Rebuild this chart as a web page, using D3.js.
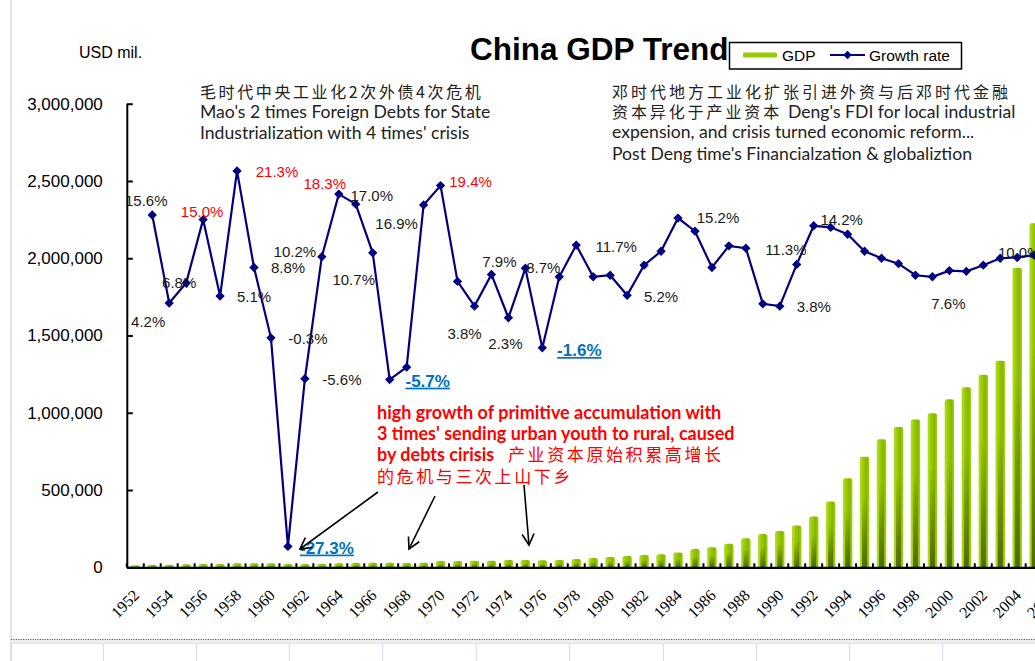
<!DOCTYPE html>
<html><head><meta charset="utf-8">
<script src="https://cdn.jsdelivr.net/npm/d3@7"></script>
<style>body{margin:0;background:#fff;overflow:hidden}svg{display:block}</style>
</head><body><svg id="c" width="1035" height="661"></svg>
<script>
// ---------------- data ----------------
const categories = [1952,1953,1954,1955,1956,1957,1958,1959,1960,1961,1962,1963,1964,1965,1966,1967,1968,1969,1970,1971,1972,1973,1974,1975,1976,1977,1978,1979,1980,1981,1982,1983,1984,1985,1986,1987,1988,1989,1990,1991,1992,1993,1994,1995,1996,1997,1998,1999,2000,2001,2002,2003,2004,2005,2006];
const tickYears = [1952,1954,1956,1958,1960,1962,1964,1966,1968,1970,1972,1974,1976,1978,1980,1982,1984,1986,1988,1990,1992,1994,1996,1998,2000,2002,2004,2006];
const yTicks = [0,500000,1000000,1500000,2000000,2500000,3000000];
const gdpYears = [1952,1953,1954,1955,1956,1957,1958,1959,1960,1961,1962,1963,1964,1965,1966,1967,1968,1969,1970,1971,1972,1973,1974,1975,1976,1977,1978,1979,1980,1981,1982,1983,1984,1985,1986,1987,1988,1989,1990,1991,1992,1993,1994,1995,1996,1997,1998,1999,2000,2001,2002,2003,2004,2005];
const gdpValues = [13000,17000,17000,19000,21000,21000,26000,26000,26000,21000,21000,23000,26000,28000,30000,30000,28000,30000,41000,41000,43000,43000,47000,47000,45000,47000,53000,60000,66000,73000,80000,85000,95000,118000,129000,153000,188000,216000,235000,270000,328000,425000,576000,716000,828000,908000,956000,997000,1087000,1165000,1246000,1337000,1939000,2226000];
const growthYears = [1953,1954,1955,1956,1957,1958,1959,1960,1961,1962,1963,1964,1965,1966,1967,1968,1969,1970,1971,1972,1973,1974,1975,1976,1977,1978,1979,1980,1981,1982,1983,1984,1985,1986,1987,1988,1989,1990,1991,1992,1993,1994,1995,1996,1997,1998,1999,2000,2001,2002,2003,2004,2005];
const growthValues = [15.6,4.2,6.8,15.0,5.1,21.3,8.8,-0.3,-27.3,-5.6,10.2,18.3,17.0,10.7,-5.7,-4.1,16.9,19.4,7.0,3.8,7.9,2.3,8.7,-1.6,7.6,11.7,7.6,7.8,5.2,9.1,10.9,15.2,13.5,8.8,11.6,11.3,4.1,3.8,9.2,14.2,14.0,13.1,10.9,10.0,9.3,7.8,7.6,8.4,8.3,9.1,10.0,10.1,10.4];
const labelledYears = [1953,1954,1955,1956,1957,1958,1959,1960,1961,1962,1963,1964,1965,1966,1967,1969,1970,1972,1973,1974,1975,1976,1978,1981,1984,1988,1990,1992,1999,2003];

// ---------------- layout (label offsets / styles) ----------------
const labelLayout = {
  1953:{dx:-6,dy:-14,k:'n'}, 1954:{dx:-21,dy:19,k:'n'}, 1955:{dx:-7,dy:0,k:'n'},
  1956:{dx:-1,dy:-8,k:'r'}, 1957:{dx:34,dy:1,k:'n'}, 1958:{dx:40,dy:1,k:'r'},
  1959:{dx:34,dy:0,k:'n'}, 1960:{dx:37,dy:1,k:'n'}, 1961:{dx:39,dy:1,k:'b'},
  1962:{dx:37,dy:1,k:'n'}, 1963:{dx:-27,dy:-5,k:'n'}, 1964:{dx:-14,dy:-11,k:'r'},
  1965:{dx:16,dy:-9,k:'n'}, 1966:{dx:-19,dy:27,k:'n'}, 1967:{dx:38,dy:1,k:'b'},
  1969:{dx:-27,dy:19,k:'n'}, 1970:{dx:30,dy:-4,k:'r'}, 1972:{dx:-10,dy:27,k:'n'},
  1973:{dx:8,dy:-13,k:'n'}, 1974:{dx:-3,dy:26,k:'n'}, 1975:{dx:18,dy:-1,k:'n'},
  1976:{dx:37,dy:2,k:'b'}, 1978:{dx:40,dy:2,k:'n'}, 1981:{dx:34,dy:1,k:'n'},
  1984:{dx:40,dy:0,k:'n'}, 1988:{dx:40,dy:1,k:'n'}, 1990:{dx:34,dy:0,k:'n'},
  1992:{dx:28,dy:-6,k:'n'}, 1999:{dx:16,dy:27,k:'n'}, 2003:{dx:19,dy:-6,k:'n'}
};

const svg = d3.select('#c');
const SANS = '"Liberation Sans", Arial, sans-serif';
const LATO = 'Lato, "Open Sans", sans-serif';
const CJK = '"Noto Sans CJK SC", sans-serif';

// defs
const defs = svg.append('defs');
const gh = defs.append('linearGradient').attr('id','barH').attr('x1',0).attr('x2',1).attr('y1',0).attr('y2',0);
[[0,'#b8de2e'],[0.35,'#9acd00'],[0.7,'#86b600'],[1,'#a2d20c']].forEach(s=>gh.append('stop').attr('offset',s[0]).attr('stop-color',s[1]));
const gv = defs.append('linearGradient').attr('id','barV').attr('x1',0).attr('x2',0).attr('y1',0).attr('y2',1);
[[0,0],[0.35,0],[1,0.7]].forEach(s=>gv.append('stop').attr('offset',s[0]).attr('stop-color','#2f4500').attr('stop-opacity',s[1]));
defs.append('marker').attr('id','arr').attr('markerUnits','userSpaceOnUse')
  .attr('markerWidth',16).attr('markerHeight',16).attr('refX',12).attr('refY',7).attr('orient','auto')
  .append('path').attr('d','M1,1 L12,7 L1,13').attr('fill','none').attr('stroke','#000').attr('stroke-width',1.6);

// frame of the screenshot (spreadsheet)
svg.append('line').attr('x1',11).attr('x2',11).attr('y1',0).attr('y2',661).attr('stroke','#c9d3e3').attr('stroke-width',1.2);
svg.append('rect').attr('x',11).attr('y',640).attr('width',1030).attr('height',3).attr('fill','#eeeeee');
svg.append('line').attr('x1',11).attr('x2',1035).attr('y1',639.5).attr('y2',639.5).attr('stroke','#555').attr('stroke-width',1.2).attr('stroke-dasharray','1.2,1.2');
svg.append('line').attr('x1',11).attr('x2',1035).attr('y1',643.5).attr('y2',643.5).attr('stroke','#dfe3ea').attr('stroke-width',1);
[11,103.3,196.7,289.3,382.7,476.2,569.5,663.3,756.7,849.5,942.7].forEach(v=>svg.append('line').attr('x1',v).attr('x2',v).attr('y1',644).attr('y2',661).attr('stroke','#d3dae6').attr('stroke-width',1));

// scales
const x = d3.scaleBand().domain(categories).range([126.8, 126.8 + categories.length*16.96]).padding(0);
const y = d3.scaleLinear().domain([0,3000000]).range([567.3,103.7]);
const y2 = d3.scaleLinear().domain([-30,30]).range([567.3,103.7]);
const cx = yr => x(yr) + x.bandwidth()/2;

// bars
const gdp = gdpYears.map((yr,i)=>({yr, v:gdpValues[i]}));
const bw = 9.5;
const bars = svg.append('g');
bars.selectAll('rect.b').data(gdp).join('rect').attr('class','b')
  .attr('x',d=>cx(d.yr)-bw/2).attr('width',bw)
  .attr('y',d=>y(d.v)).attr('height',d=>y(0)-y(d.v)+1).attr('rx',2.2)
  .attr('fill','url(#barH)');
bars.selectAll('rect.s').data(gdp).join('rect').attr('class','s')
  .attr('x',d=>cx(d.yr)-2.5).attr('width',5)
  .attr('y',d=>y(d.v)+1).attr('height',d=>Math.max(0,y(0)-y(d.v)-1))
  .attr('fill','url(#barV)');

// y axis
const ya = svg.append('g').attr('transform','translate(126.8,0)')
  .call(d3.axisLeft(y).tickValues(yTicks).tickFormat(d3.format(',')).tickSizeInner(-6).tickSizeOuter(0).tickPadding(24));
ya.select('.domain').attr('stroke','#000').attr('stroke-width',2);
ya.selectAll('.tick line').attr('stroke','#000').attr('stroke-width',2);
ya.selectAll('.tick text').attr('font-family',SANS).attr('font-size',17).attr('fill','#000');

// x axis
const xa = svg.append('g').attr('transform',`translate(0,${y(0)})`)
  .call(d3.axisBottom(x).tickValues(tickYears).tickSize(0).tickSizeOuter(0));
xa.select('.domain').attr('stroke','#000').attr('stroke-width',2.2);
xa.selectAll('.tick text').attr('font-family','"Liberation Serif", "Times New Roman", serif').attr('font-size',16).attr('fill','#000')
  .attr('text-anchor','end').attr('dy',0).attr('y',0)
  .attr('transform','translate(5,29) rotate(-45)');
// category tick marks (between bars)
svg.append('g').selectAll('line').data(categories).join('line')
  .attr('x1',d=>x(d)).attr('x2',d=>x(d)).attr('y1',y(0)).attr('y2',y(0)-4)
  .attr('stroke','#000').attr('stroke-width',2);

// growth line
const growth = growthYears.map((yr,i)=>({yr, g:growthValues[i]}));
svg.append('path').datum(growth)
  .attr('d', d3.line().x(d=>cx(d.yr)).y(d=>y2(d.g)))
  .attr('fill','none').attr('stroke','#000080').attr('stroke-width',2.2);
svg.append('g').selectAll('rect').data(growth).join('rect')
  .attr('x',-3.3).attr('y',-3.3).attr('width',6.6).attr('height',6.6)
  .attr('transform',d=>`translate(${cx(d.yr)},${y2(d.g)}) rotate(45)`)
  .attr('fill','#000080');

// data labels
const styles = {n:{fill:'#1a1a1a',size:15,w:'normal',u:null}, r:{fill:'#ff0000',size:15,w:'normal',u:null}, b:{fill:'#0070c0',size:17,w:'bold',u:'underline'}};
const lab = growth.filter(d=>labelledYears.includes(d.yr));
svg.append('g').selectAll('text').data(lab).join('text')
  .attr('x',d=>cx(d.yr)+labelLayout[d.yr].dx)
  .attr('y',d=>y2(d.g)+labelLayout[d.yr].dy)
  .attr('dy','0.36em').attr('text-anchor','middle')
  .attr('font-family',SANS)
  .attr('font-size',d=>styles[labelLayout[d.yr].k].size)
  .attr('font-weight',d=>styles[labelLayout[d.yr].k].w)
  .attr('fill',d=>styles[labelLayout[d.yr].k].fill)
  .attr('text-decoration',d=>styles[labelLayout[d.yr].k].u)
  .text(d=>d.g.toFixed(1)+'%');

// arrows
[[378,492,300,549],[435,496,409,549],[524,485,529,545]].forEach(a=>
  svg.append('line').attr('x1',a[0]).attr('y1',a[1]).attr('x2',a[2]).attr('y2',a[3])
    .attr('stroke','#000').attr('stroke-width',1.6).attr('marker-end','url(#arr)'));

// titles
svg.append('text').attr('x',79).attr('y',58).attr('font-family',SANS).attr('font-size',16).attr('fill','#000').text('USD mil.');
svg.append('text').attr('x',470).attr('y',60).attr('font-family',SANS).attr('font-size',31.5).attr('font-weight','bold').attr('fill','#000').text('China GDP Trend');

// legend
const lg = svg.append('g');
lg.append('rect').attr('x',729.5).attr('y',42.5).attr('width',232).attr('height',26.5).attr('fill','#fff').attr('stroke','#000').attr('stroke-width',1.5);
lg.append('rect').attr('x',743).attr('y',52.5).attr('width',34).attr('height',5).attr('rx',1.5).attr('fill','#99cc00');
lg.append('text').attr('x',782).attr('y',61).attr('font-family',SANS).attr('font-size',15.5).attr('fill','#000').text('GDP');
lg.append('line').attr('x1',830).attr('x2',865).attr('y1',55).attr('y2',55).attr('stroke','#000080').attr('stroke-width',2);
lg.append('rect').attr('x',-3).attr('y',-3).attr('width',6).attr('height',6).attr('transform','translate(847.5,55) rotate(45)').attr('fill','#000080');
lg.append('text').attr('x',869).attr('y',61).attr('font-family',SANS).attr('font-size',15.5).attr('fill','#000').text('Growth rate');

// annotation: Mao
const EN = 17.6;
const ta = svg.append('g').attr('fill','#222');
ta.append('text').attr('x',200).attr('y',97.5).attr('font-family',CJK).attr('font-size',16).attr('letter-spacing',2.6).text('毛时代中央工业化2次外债4次危机');
ta.append('text').attr('x',200).attr('y',117.5).attr('font-family',LATO).attr('font-size',EN).text("Mao's 2 times Foreign Debts for State");
ta.append('text').attr('x',200).attr('y',138.5).attr('font-family',LATO).attr('font-size',EN).text("Industrialization with 4 times' crisis");

// annotation: Deng
ta.append('text').attr('x',612).attr('y',97.5).attr('font-family',CJK).attr('font-size',16).attr('letter-spacing',3).text('邓时代地方工业化扩张引进外资与后邓时代金融');
const l2 = ta.append('text').attr('x',612).attr('y',117.5);
l2.append('tspan').attr('font-family',CJK).attr('font-size',16).attr('letter-spacing',2.9).text('资本异化于产业资本');
l2.append('tspan').attr('x',788).attr('font-family',LATO).attr('font-size',EN).text("Deng's FDI for local industrial");
ta.append('text').attr('x',612).attr('y',138).attr('font-family',LATO).attr('font-size',EN).text('expension, and crisis turned economic reform...');
ta.append('text').attr('x',612).attr('y',159.5).attr('font-family',LATO).attr('font-size',EN).text("Post Deng time's Financialzation & globaliztion");

// annotation: red
const RS = 18;
const rd = svg.append('g').attr('fill','#ff0000').attr('font-weight','bold');
rd.append('text').attr('x',377).attr('y',419).attr('font-family',LATO).attr('font-size',RS).text('high growth of primitive accumulation with');
rd.append('text').attr('x',377).attr('y',440).attr('font-family',LATO).attr('font-size',RS).text("3 times' sending urban youth to rural, caused");
const r3 = rd.append('text').attr('x',377).attr('y',461);
r3.append('tspan').attr('font-family',LATO).attr('font-size',RS).text('by debts cirisis');
r3.append('tspan').attr('x',508).attr('font-family',CJK).attr('font-size',17).attr('font-weight','normal').attr('letter-spacing',2.6).text('产业资本原始积累高增长');
rd.append('text').attr('x',377).attr('y',483).attr('font-family',CJK).attr('font-size',17).attr('font-weight','normal').attr('letter-spacing',2.6).text('的危机与三次上山下乡');
</script></body></html>
